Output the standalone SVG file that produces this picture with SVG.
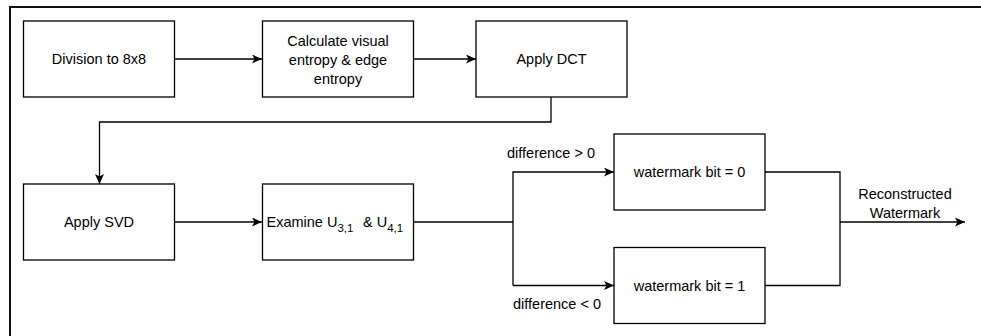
<svg xmlns="http://www.w3.org/2000/svg" width="981" height="336" viewBox="0 0 981 336">
<defs>
<style>
.box{fill:#fff;stroke:#000;stroke-width:1.3}
.ln{fill:none;stroke:#000;stroke-width:1.3}
.t{font-family:"Liberation Sans",Arial,sans-serif;font-size:14.5px;fill:#000;text-anchor:middle}
.tl{font-family:"Liberation Sans",Arial,sans-serif;font-size:14.5px;fill:#000}
</style>
<marker id="ah" markerUnits="userSpaceOnUse" markerWidth="11" markerHeight="10" refX="10" refY="4.5" orient="auto">
<path d="M0,0 L10,4.5 L0,9 L2.5,4.5 Z" fill="#000"/>
</marker>
</defs>
<rect x="0" y="0" width="981" height="336" fill="#fff"/>
<rect x="10" y="7" width="1000" height="400" fill="none" stroke="#111" stroke-width="2"/>
<g id="connectors">
<path class="ln" d="M175,59 L262,59" marker-end="url(#ah)"/>
<path class="ln" d="M414,59 L476,59" marker-end="url(#ah)"/>
<path class="ln" d="M551,97 L551,122 L99.5,122 L99.5,184" marker-end="url(#ah)"/>
<path class="ln" d="M175,222 L262,222" marker-end="url(#ah)"/>
<path class="ln" d="M414,222 L513,222"/>
<path class="ln" d="M513,285.5 L513,172 L614,172" marker-end="url(#ah)"/>
<path class="ln" d="M513,285.5 L614,285.5" marker-end="url(#ah)"/>
<path class="ln" d="M765,172 L840,172 L840,285.5 L765,285.5"/>
<path class="ln" d="M840,222 L965,222" marker-end="url(#ah)"/>
<text class="t" x="551" y="158">difference &gt; 0</text>
<text class="t" x="557" y="309">difference &lt; 0</text>
<text class="t" x="905" y="199">Reconstructed</text>
<text class="t" x="905" y="218">Watermark</text>
</g>
<g id="division">
<rect class="box" x="23.5" y="21" width="151" height="76"/>
<text class="t" x="99" y="64">Division to 8x8</text>
</g>
<g id="entropy">
<rect class="box" x="262.5" y="21" width="151" height="76"/>
<text class="t" x="338" y="46">Calculate visual</text>
<text class="t" x="338" y="65">entropy &amp; edge</text>
<text class="t" x="338" y="84">entropy</text>
</g>
<g id="dct">
<rect class="box" x="476" y="21" width="151" height="76"/>
<text class="t" x="551.5" y="64">Apply DCT</text>
</g>
<g id="svd">
<rect class="box" x="23.5" y="184" width="151" height="76"/>
<text class="t" x="99" y="227">Apply SVD</text>
</g>
<g id="examine">
<rect class="box" x="262.5" y="184" width="151" height="76"/>
<text class="tl" x="266.5" y="227">Examine U<tspan font-size="11.5" dy="5">3,1</tspan><tspan x="363" dy="-5">&amp; U</tspan><tspan font-size="11.5" dy="5">4,1</tspan></text>
</g>
<g id="bit0">
<rect class="box" x="614" y="134" width="151" height="76"/>
<text class="t" x="689.5" y="177">watermark bit = 0</text>
</g>
<g id="bit1">
<rect class="box" x="614" y="247.5" width="151" height="76"/>
<text class="t" x="689.5" y="290.5">watermark bit = 1</text>
</g>
</svg>
